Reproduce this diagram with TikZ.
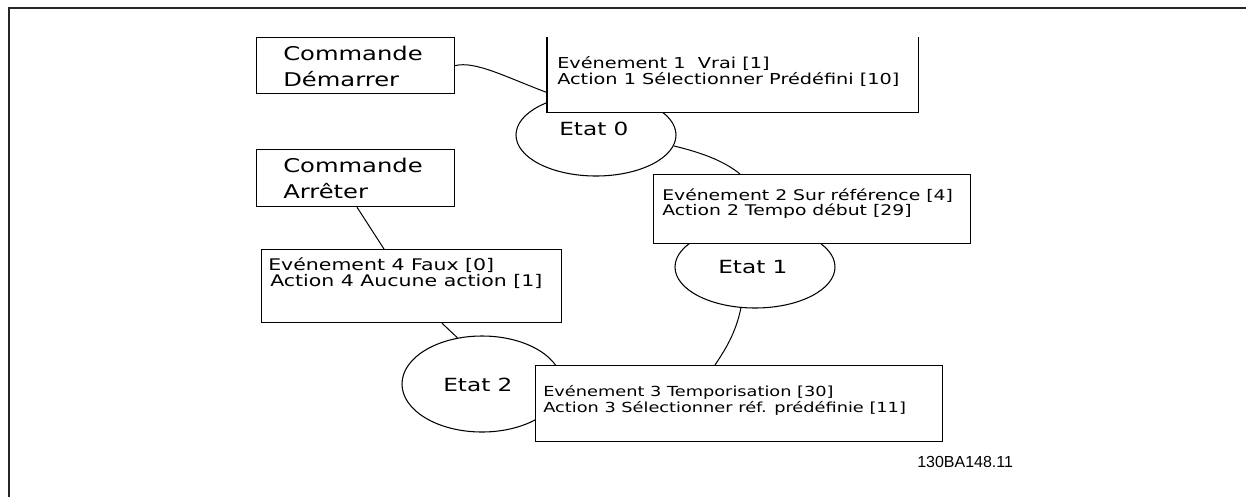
\documentclass[tikz,border=0pt]{standalone}
\usepackage{fontspec}
\usetikzlibrary{shapes.geometric,calc}
\newfontfamily\vf[FakeStretch=1.28]{DejaVu Sans}
\newfontfamily\lf{Liberation Sans}
\begin{document}
\begin{tikzpicture}[x=0.75pt,y=-0.75pt,
  boxx/.style={draw=black,line width=0.9pt,fill=white,inner sep=0pt,anchor=north west},
  openbox/.style={fill=white,inner sep=0pt,anchor=north west},
  stat/.style={ellipse,draw=black,line width=0.8pt,inner sep=0pt},
  conn/.style={draw=black,line width=0.75pt},
  cmdtxt/.style={anchor=base west,inner sep=0pt,font=\vf\fontsize{14.2}{16}\selectfont},
  evtxt/.style={anchor=base west,inner sep=0pt},
  sttxt/.style={anchor=base west,inner sep=0pt,font=\vf\fontsize{13.6}{16}\selectfont}]
\useasboundingbox (0,0) rectangle (1246,497);
\draw[line width=1pt,draw=black!85] (1246,8) -- (9,8) -- (9,497);

% states
\node[stat,minimum width=120pt,minimum height=61.5pt] (s0) at (596,135) {};
\node[stat,minimum width=120pt,minimum height=61.5pt] (s1) at (755,267) {};
\node[stat,minimum width=120pt,minimum height=72pt] (s2) at (482,384) {};

% command boxes
\node[boxx,minimum width=148.5pt,minimum height=42pt] (d1) at (256,37) {};
\node[boxx,minimum width=148.5pt,minimum height=42.75pt] (a1) at (256,149) {};

% event boxes
\node[openbox,minimum width=278.25pt,minimum height=56.25pt] (ev1) at (547,37) {};
\draw[line width=0.9pt] (ev1.north west) -- (ev1.south west) -- (ev1.south east) -- (ev1.north east);
\node[boxx,minimum width=237.75pt,minimum height=51.75pt] (ev2) at (653,174) {};
\node[boxx,minimum width=305.25pt,minimum height=57pt] (ev3) at (535,365) {};
\node[boxx,minimum width=225pt,minimum height=54.75pt] (ev4) at (261,249) {};

% texts
\node[cmdtxt] (td1a) at (283,60) {Commande};
\node[cmdtxt] (td1b) at (283,86) {Démarrer};
\node[cmdtxt] (ta1a) at (283,172) {Commande};
\node[cmdtxt] (ta1b) at (283,198) {Arrêter};
\node[evtxt,font=\vf\fontsize{11.3}{12}\selectfont] (tev1a) at (557,68) {Evénement 1~ Vrai [1]};
\node[evtxt,font=\vf\fontsize{11.3}{12}\selectfont] (tev1b) at (557,84) {Action 1 Sélectionner Prédéfini [10]};
\node[evtxt,font=\vf\fontsize{11}{12}\selectfont] (tev2a) at (662,200) {Evénement 2 Sur référence [4]};
\node[evtxt,font=\vf\fontsize{11}{12}\selectfont] (tev2b) at (662,215) {Action 2 Tempo début [29]};
\node[evtxt,font=\vf\fontsize{10.4}{12}\selectfont] (tev3a) at (543,396) {Evénement 3 Temporisation [30]};
\node[evtxt,font=\vf\fontsize{10.4}{12}\selectfont] (tev3b) at (543,412) {Action 3 Sélectionner réf. prédéfinie [11]};
\node[evtxt,font=\vf\fontsize{12}{12}\selectfont] (tev4a) at (268,270) {Evénement 4 Faux [0]};
\node[evtxt,font=\vf\fontsize{12}{12}\selectfont] (tev4b) at (270,286) {Action 4 Aucune action [1]};
\node[sttxt] (ts0) at (559,135) {Etat 0};
\node[sttxt] (ts1) at (718,273) {Etat 1};
\node[sttxt] (ts2) at (443,391) {Etat 2};
\node[anchor=base west,inner sep=0pt,font=\lf\fontsize{12}{14}\selectfont] (lab) at (917,467) {130BA148.11};

% connectors
\draw[conn] (d1.east) .. controls ($(d1.east)+(20,-5)$) and ($(ev1.south west)+(-40,-35)$) .. ($(ev1.south west)+(0,-20)$);
\draw[conn] (s0.-8) .. controls ($(s0.-8)+(25,6)$) and ($(ev2.north west)+(70,-14)$) .. ($(ev2.north west)+(87,0)$);
\draw[conn] ($(a1.south west)+(101,0)$) -- ($(ev4.north west)+(123,0)$);
\draw[conn] ($(ev4.south west)+(181,0)$) -- (s2.118);
\draw[conn] (s1.-109) .. controls ($(s1.-109)+(-5,25)$) and ($(ev3.north west)+(190,-15)$) .. ($(ev3.north west)+(180,0)$);
\end{tikzpicture}
\end{document}
